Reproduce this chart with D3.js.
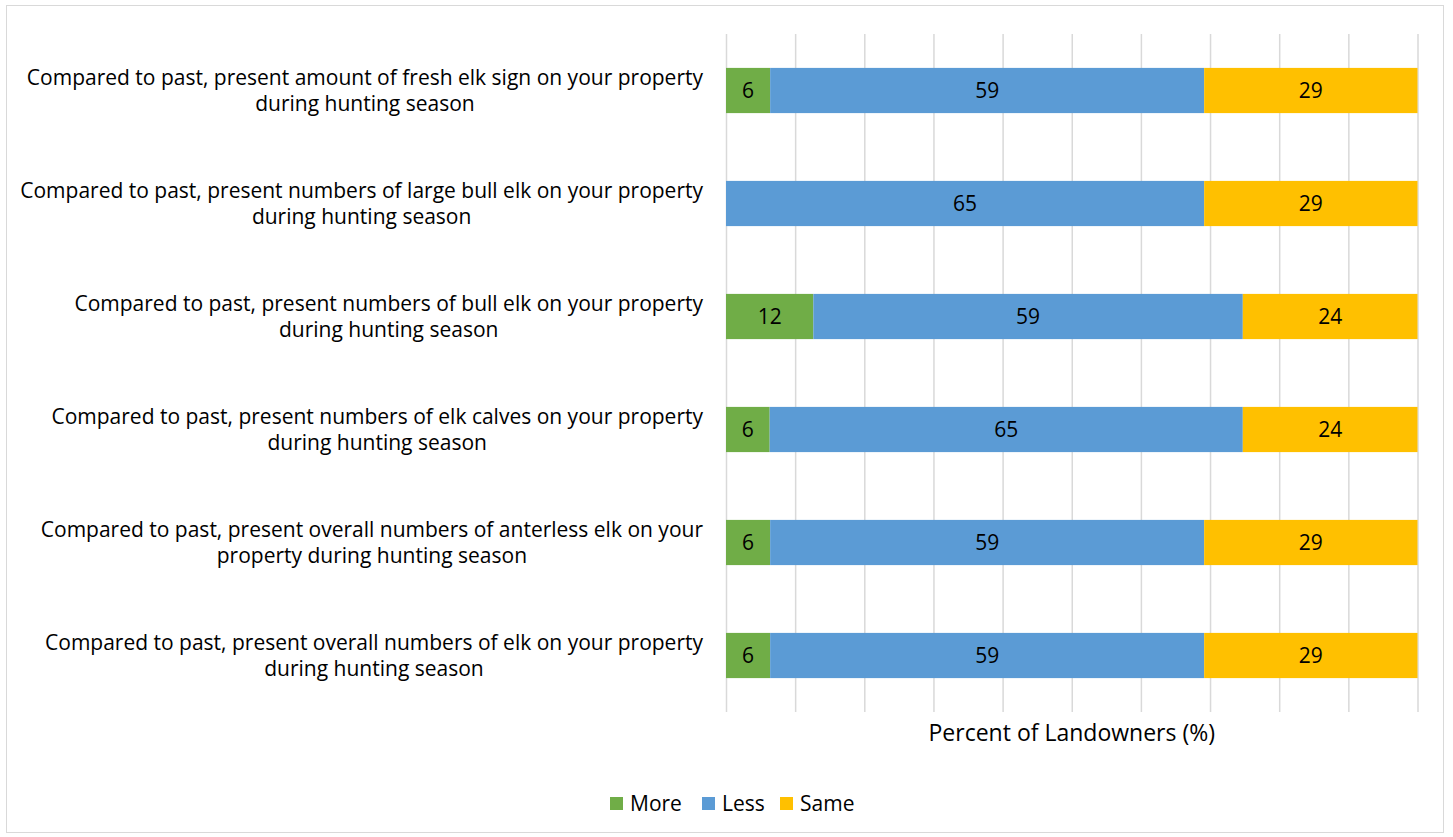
<!DOCTYPE html>
<html><head><meta charset="utf-8">
<script src="https://cdn.jsdelivr.net/npm/d3@7"></script>
<style>
body{margin:0;background:#fff;}
text{font-family:"Open Sans",sans-serif;}
</style></head>
<body><svg id="c" width="1453" height="837"></svg>
<script>
const categories = [
  ["Compared to past, present amount of fresh elk sign on your property","during hunting season"],
  ["Compared to past, present numbers of large bull elk on your property","during hunting season"],
  ["Compared to past, present numbers of bull elk on your property","during hunting season"],
  ["Compared to past, present numbers of elk calves on your property","during hunting season"],
  ["Compared to past, present overall numbers of anterless elk on your","property during hunting season"],
  ["Compared to past, present overall numbers of elk on your property","during hunting season"]
];
const seriesNames = ["More","Less","Same"];
const moreVals = [6, 0, 12, 6, 6, 6];
const lessVals = [59, 65, 59, 65, 59, 59];
const sameVals = [29, 29, 24, 24, 29, 29];
const colors = ["#70ad47","#5b9bd5","#ffc000"];
const xTicks = [0,0.1,0.2,0.3,0.4,0.5,0.6,0.7,0.8,0.9,1];

const svg = d3.select("#c");
svg.append("rect").attr("x",6.5).attr("y",5.5).attr("width",1437).attr("height",827)
  .attr("fill","#fff").attr("stroke","#d9d9d9").attr("stroke-width",1);

const m = {left:726, right:1417.5, top:34, bottom:712};
const x = d3.scaleLinear().domain([0,1]).range([m.left,m.right]);
const y = d3.scaleBand().domain(d3.range(categories.length)).range([m.top,m.bottom]).paddingInner(0.6).paddingOuter(0.3);

const ax = svg.append("g").attr("transform",`translate(0,${m.bottom})`)
  .call(d3.axisBottom(x).tickValues(xTicks).tickSize(-(m.bottom-m.top)).tickFormat(""));
ax.select(".domain").remove();
ax.selectAll(".tick line").attr("stroke","#d9d9d9").attr("stroke-width",1.5);

const rows = categories.map((c,i)=>{
  const vals=[moreVals[i],lessVals[i],sameVals[i]];
  const tot=d3.sum(vals);
  let acc=0;
  return vals.map((v,k)=>{const s={i,k,v,x0:acc/tot,x1:(acc+v)/tot};acc+=v;return s;});
});
const segs = rows.flat();
svg.append("g").selectAll("rect").data(segs.filter(d=>d.v>0)).join("rect")
  .attr("x",d=>x(d.x0)).attr("width",d=>x(d.x1)-x(d.x0))
  .attr("y",d=>y(d.i)).attr("height",y.bandwidth())
  .attr("fill",d=>colors[d.k]);
svg.append("g").selectAll("text").data(segs.filter(d=>d.v>0)).join("text")
  .attr("x",d=>(x(d.x0)+x(d.x1))/2).attr("y",d=>y(d.i)+y.bandwidth()/2)
  .attr("dy","0.35em").attr("text-anchor","middle").attr("font-size",21).attr("fill","#000")
  .text(d=>d.v);

const lab = svg.append("g");
categories.forEach((lines,i)=>{
  const g = lab.append("g");
  const cy = y(i)+y.bandwidth()/2;
  const ts = lines.map((t,j)=>g.append("text").attr("font-size",21).attr("fill","#000")
     .attr("y",cy+(j-0.5)*26).attr("dy","0.35em").attr("text-anchor","middle").text(t));
  const w = d3.max(ts,t=>t.node().getComputedTextLength());
  ts.forEach(t=>t.attr("x",703-w/2));
});

svg.append("text").attr("x",(m.left+m.right)/2).attr("y",733).attr("dy","0.35em")
  .attr("text-anchor","middle").attr("font-size",23).attr("fill","#000").text("Percent of Landowners (%)");

const lg = svg.append("g");
const legX=[610,702,780];
seriesNames.forEach((n,k)=>{
  lg.append("rect").attr("x",legX[k]).attr("y",797).attr("width",13).attr("height",13).attr("fill",colors[k]);
  lg.append("text").attr("x",legX[k]+20).attr("y",803.5).attr("dy","0.35em").attr("font-size",21).attr("fill","#000").text(n);
});
</script></body></html>
